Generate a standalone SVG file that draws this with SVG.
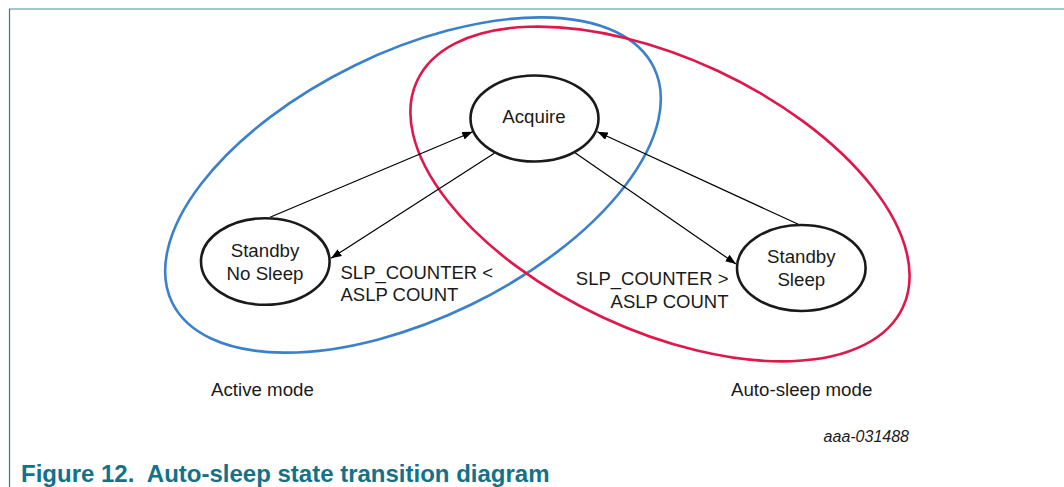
<svg xmlns="http://www.w3.org/2000/svg" width="1064" height="487" viewBox="0 0 1064 487">
<style>
.t{font-family:"Liberation Sans",Arial,sans-serif;fill:#1a1a1a}
.n{font-size:18.7px;text-anchor:middle}
.l{font-size:18.5px}
.node{fill:none;stroke:#1a1a1a;stroke-width:2.6}
.edge{stroke:#000;stroke-width:1.2;fill:none;marker-end:url(#ah)}
</style>
<defs>
<marker id="ah" markerUnits="userSpaceOnUse" markerWidth="11" markerHeight="8" refX="10.5" refY="4" orient="auto">
<path d="M0,0 L10.5,4 L0,8 z" fill="#000"/>
</marker>
</defs>
<rect width="1064" height="487" fill="#fff"/>
<line x1="9" y1="9" x2="1064" y2="9" stroke="#a3c6cf" stroke-width="2"/>
<line x1="9.5" y1="9" x2="9.5" y2="487" stroke="#2f7f93" stroke-width="1.2"/>
<g id="active-mode">
<ellipse cx="413" cy="185" rx="268" ry="133" transform="rotate(-26 413 185)" fill="none" stroke="#3b80cb" stroke-width="2.6"/>
<text class="t l" x="211" y="396" style="font-size:18.7px">Active mode</text>
</g>
<g id="auto-sleep-mode">
<ellipse cx="660" cy="194" rx="268" ry="136" transform="rotate(25 660 194)" fill="none" stroke="#e0174b" stroke-width="2.6"/>
<text class="t l" x="731" y="396" style="font-size:18.7px">Auto-sleep mode</text>
</g>
<g id="connectors">
<line class="edge" x1="270" y1="217.3" x2="472.7" y2="131.7"/>
<line class="edge" x1="494.3" y1="153.3" x2="331" y2="258.3"/>
<line class="edge" x1="575" y1="152.7" x2="736" y2="264"/>
<line class="edge" x1="798.3" y1="224.3" x2="597.3" y2="131.7"/>
<text class="t l" x="340.5" y="278.5">SLP_COUNTER &lt;</text>
<text class="t l" x="340.5" y="300.5">ASLP COUNT</text>
<text class="t l" x="728.5" y="284.5" text-anchor="end">SLP_COUNTER &gt;</text>
<text class="t l" x="728.5" y="307.5" text-anchor="end">ASLP COUNT</text>
</g>
<g id="acquire">
<ellipse class="node" cx="534.5" cy="118.5" rx="64" ry="43"/>
<text class="t n" x="534" y="123.3">Acquire</text>
</g>
<g id="standby-no-sleep">
<ellipse class="node" cx="265.3" cy="261.5" rx="64.3" ry="43.3"/>
<text class="t n" x="265" y="257.3">Standby</text>
<text class="t n" x="265" y="280">No Sleep</text>
</g>
<g id="standby-sleep">
<ellipse class="node" cx="801.3" cy="268" rx="64.3" ry="43"/>
<text class="t n" x="801.3" y="263.3">Standby</text>
<text class="t n" x="801.3" y="285.5">Sleep</text>
</g>
<text class="t" x="909" y="442" text-anchor="end" style="font-size:16px;font-style:italic">aaa-031488</text>
<text x="21" y="482" xml:space="preserve" style="font-family:'Liberation Sans',Arial,sans-serif;font-weight:bold;font-size:24px;fill:#14718a;white-space:pre">Figure 12.  Auto-sleep state transition diagram</text>
</svg>
